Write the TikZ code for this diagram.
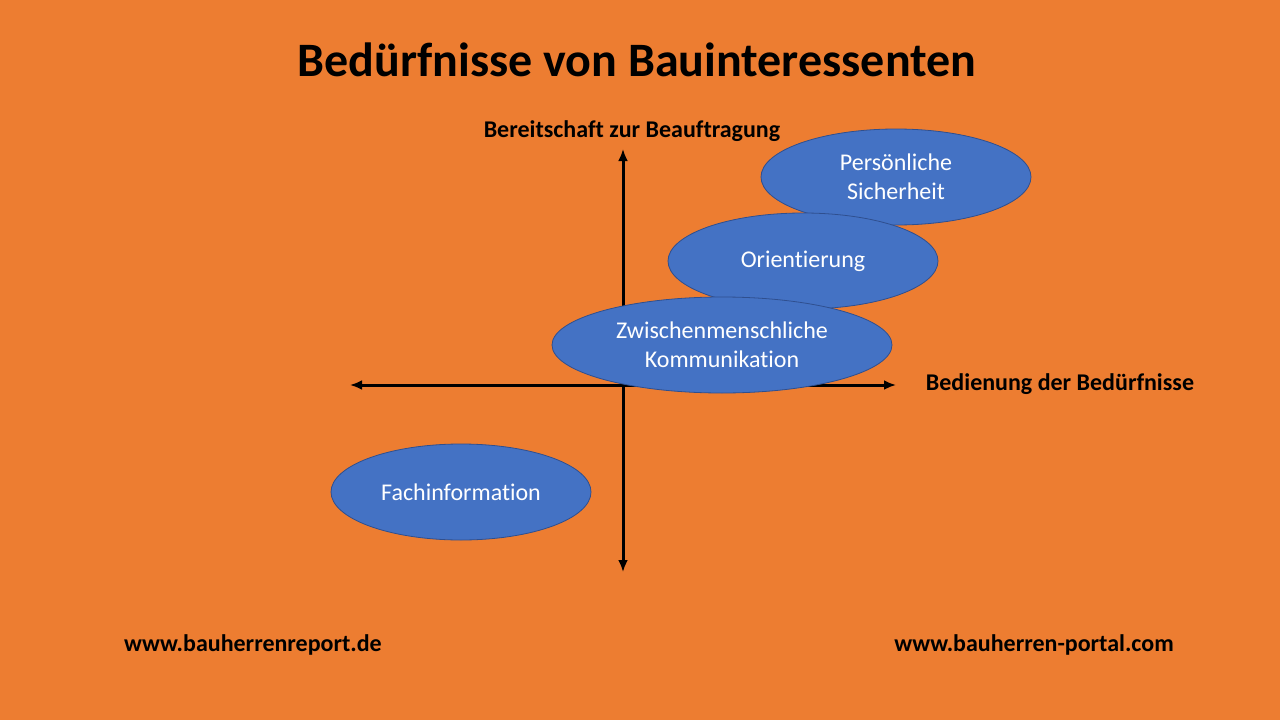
\documentclass[tikz,border=0pt]{standalone}
\usepackage{fontspec}
\setmainfont[RawFeature=-liga]{Carlito}
\usetikzlibrary{shapes.geometric,arrows.meta}
\definecolor{bg}{HTML}{ED7D31}
\definecolor{bl}{HTML}{4472C4}
\definecolor{bd}{HTML}{2F4F8F}
\begin{document}
\begin{tikzpicture}[x=1pt,y=-1pt,
  ell/.style={ellipse,draw=bd,line width=0.8pt,fill=bl,text=white,font=\fontsize{24}{29}\selectfont,align=center,inner sep=0pt},
  ax/.style={line width=3pt,{Latex[length=12pt,width=10pt]}-{Latex[length=12pt,width=10pt]}},
  lbl/.style={font=\bfseries\fontsize{24}{29}\selectfont}]
\fill[bg] (0,0) rectangle (1280,720);
\useasboundingbox (0,0) rectangle (1280,720);
\node[font=\bfseries\fontsize{48}{56}\selectfont] (title) at (637,60) {Bedürfnisse von Bauinteressenten};
\coordinate (vt) at (623,149); \coordinate (vb) at (623,572);
\coordinate (hl) at (350,385); \coordinate (hr) at (896,385);
\draw[ax] (vb) -- (vt);
\draw[ax] (hl) -- (hr);
\node[lbl] (ylab) at (632,131) {Bereitschaft zur Beauftragung};
\node[lbl] (xlab) at (1060,384) {Bedienung der Bedürfnisse};
\node[ell,minimum width=270pt,minimum height=96pt] (ps) at (896,177) {Persönliche\\Sicherheit};
\node[ell,minimum width=270pt,minimum height=96pt] (or) at (803,261) {Orientierung};
\node[ell,minimum width=340pt,minimum height=96pt] (zk) at (722,345) {Zwischenmenschliche\\Kommunikation};
\node[ell,minimum width=260pt,minimum height=96pt] (fi) at (461,492) {Fachinformation};
\node[lbl] (w1) at (253,645) {www.bauherrenreport.de};
\node[lbl] (w2) at (1034,645) {www.bauherren-portal.com};
\end{tikzpicture}
\end{document}
